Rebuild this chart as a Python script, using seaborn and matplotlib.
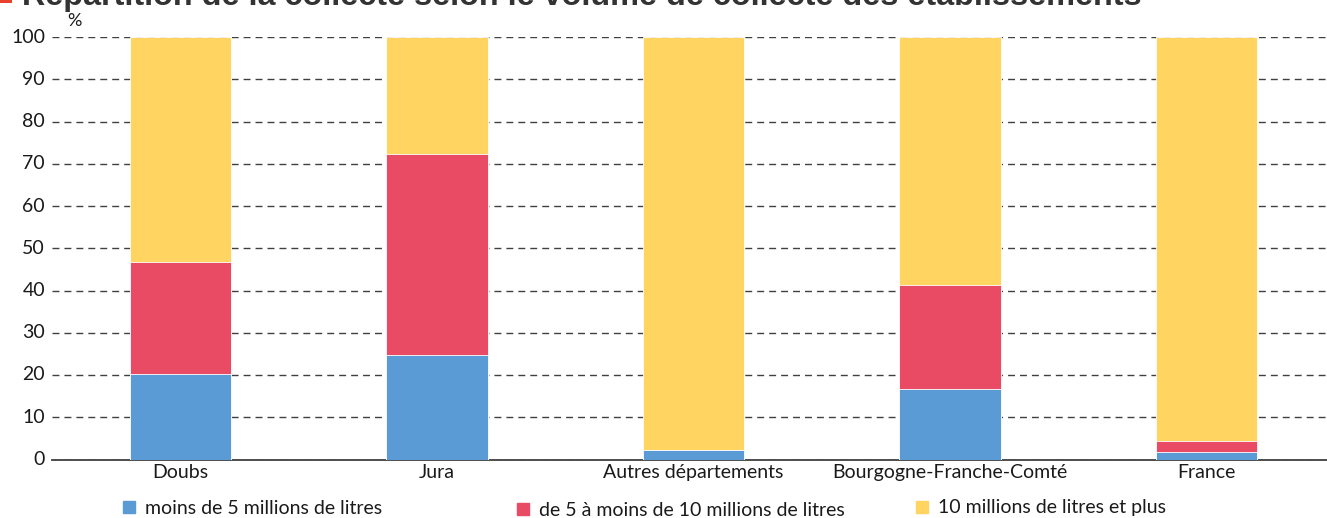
import matplotlib
matplotlib.use("Agg")
import matplotlib.pyplot as plt
import seaborn as sns
import numpy as np
import pandas as pd
from matplotlib.lines import Line2D
from matplotlib.patches import Rectangle

categories = ["Doubs", "Jura", "Autres départements", "Bourgogne-Franche-Comté", "France"]
moins_5 = [20.2, 24.7, 2.2, 16.7, 1.7]
de_5_a_10 = [26.6, 47.7, 0.0, 24.7, 2.7]
plus_10 = [53.2, 27.6, 97.8, 58.6, 95.6]
series_labels = ["moins de 5 millions de litres",
                 "de 5 à moins de 10 millions de litres",
                 "10 millions de litres et plus"]
yticks = [0, 10, 20, 30, 40, 50, 60, 70, 80, 90, 100]
title = "Répartition de la collecte selon le volume de collecte des établissements"

colors = ["#5B9BD5", "#E94B64", "#FFD460"]

sns.set_theme(style="white")
plt.rcParams['font.family'] = ['Lato', 'DejaVu Sans']

W, H = 1327, 518
fig = plt.figure(figsize=(W / 100, H / 100), dpi=100)
left, right = 52, 1335
top, bottom = 37, 459.5
ax = fig.add_axes([left / W, (H - bottom) / H, (right - left) / W, (bottom - top) / H])

df = pd.DataFrame({"cat": categories,
                   "s1": moins_5, "s2": de_5_a_10, "s3": plus_10})
df["c1"] = df["s1"]
df["c2"] = df["s1"] + df["s2"]
df["c3"] = df["s1"] + df["s2"] + df["s3"]

for col, color in [("c3", colors[2]), ("c2", colors[1]), ("c1", colors[0])]:
    sns.barplot(data=df, x="cat", y=col, order=categories, color=color,
                width=0.395, ax=ax, saturation=1, edgecolor="white",
                linewidth=0.6, zorder=3)

ax.set_xlim(-0.5, 4.5)
ax.set_ylim(0, 100)
ax.set_yticks(yticks)
ax.set_yticklabels([str(t) for t in yticks])
ax.yaxis.grid(True, color="#404040", linestyle=(0, (5, 3.6)), linewidth=1.0, zorder=0)
ax.set_axisbelow(True)
ax.xaxis.grid(False)
for s in ["top", "right", "left"]:
    ax.spines[s].set_visible(False)
ax.spines["bottom"].set_color("#404040")
ax.spines["bottom"].set_linewidth(1.3)
ax.tick_params(axis="y", length=0, pad=5, labelsize=14, labelcolor="#1a1a1a")
ax.tick_params(axis="x", length=0, pad=3, labelsize=14, labelcolor="#1a1a1a")
for lab in ax.get_yticklabels():
    lab.set_verticalalignment("center")
ax.set_xlabel("")
ax.set_ylabel("")

fig.text(67 / W, 1 - 21 / H, "%", fontsize=13, color="#1a1a1a", va="center")

# Title (cut at top of the picture, as in the reference)
fig.text(22 / W, 1 - 5 / H, title, fontsize=23.3, fontweight="bold",
         color="#333333", va="baseline", ha="left", family="Liberation Sans")
fig.patches.append(Rectangle((0, 1 - 3 / H), 12 / W, 10 / H, transform=fig.transFigure,
                             facecolor="#E8412C", edgecolor="none"))

# Legend entries
leg_pos = [(121, 508), (515, 510), (914, 508)]
for (lx, ly), lab, c in zip(leg_pos, series_labels, colors):
    h = Line2D([], [], marker="s", linestyle="none", markersize=8,
               markerfacecolor=c, markeredgecolor=c)
    fig.legend([h], [lab], loc="center left", bbox_to_anchor=(lx / W, 1 - ly / H),
               frameon=False, fontsize=14, handlelength=0.8, handletextpad=0.45,
               borderaxespad=0, borderpad=0, labelcolor="#1a1a1a")

fig.savefig("out.png", dpi=100)
